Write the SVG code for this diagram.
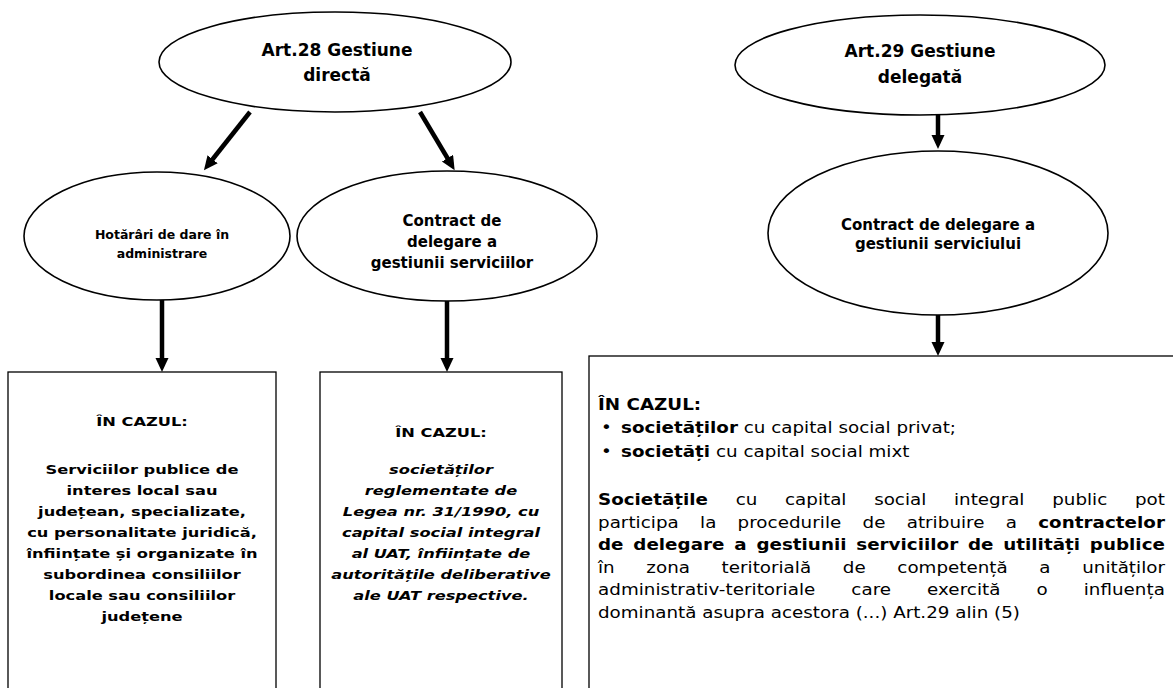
<svg xmlns="http://www.w3.org/2000/svg" width="1173" height="688" viewBox="0 0 1173 688">
<defs>
<style>
.bg{fill:#ffffff}
.ell{fill:#ffffff;stroke:#000;stroke-width:1.6}
.box{fill:#ffffff;stroke:#000;stroke-width:1.3}
.t{font-family:"DejaVu Sans","Liberation Sans",sans-serif;fill:#000;text-anchor:middle;font-weight:bold}
.r{font-family:"DejaVu Sans","Liberation Sans",sans-serif;fill:#000;font-size:15px}
.b{font-weight:bold}
.it{font-style:italic}
.arr{stroke:#000;stroke-width:4.5;fill:none;marker-end:url(#ah)}
</style>
<marker id="ah" markerUnits="userSpaceOnUse" markerWidth="16" markerHeight="16" refX="1" refY="6.5" orient="auto">
<path d="M0,0 L14,6.5 L0,13 z" fill="#000"/>
</marker>
</defs>
<rect class="bg" x="0" y="0" width="1173" height="688"/>

<g id="connectors">
<line class="arr" x1="250" y1="112" x2="212" y2="160"/>
<line class="arr" x1="420" y1="112" x2="448" y2="159"/>
<line class="arr" x1="938" y1="115" x2="938" y2="136"/>
<line class="arr" x1="938" y1="315" x2="938" y2="343"/>
<line class="arr" x1="162" y1="300" x2="162" y2="359"/>
<line class="arr" x1="447" y1="301" x2="447" y2="359"/>
</g>

<g id="art28">
<ellipse class="ell" cx="335" cy="62" rx="176" ry="50"/>
<text class="t" x="337" y="56" font-size="17">Art.28 Gestiune</text>
<text class="t" x="337" y="81" font-size="17">directă</text>
</g>

<g id="art29">
<ellipse class="ell" cx="920" cy="65" rx="185" ry="50"/>
<text class="t" x="920" y="57" font-size="17">Art.29 Gestiune</text>
<text class="t" x="920" y="83" font-size="17">delegată</text>
</g>

<g id="hotarari">
<ellipse class="ell" cx="157" cy="236" rx="133" ry="64"/>
<text class="t" x="162" y="239" font-size="12.5">Hotărâri de dare în</text>
<text class="t" x="162" y="258" font-size="12.5">administrare</text>
</g>

<g id="contract-servicii">
<ellipse class="ell" cx="447" cy="236" rx="150" ry="65"/>
<text class="t" x="452" y="226" font-size="15">Contract de</text>
<text class="t" x="452" y="247" font-size="15">delegare a</text>
<text class="t" x="452" y="268" font-size="15">gestiunii serviciilor</text>
</g>

<g id="contract-serviciu">
<ellipse class="ell" cx="938" cy="233" rx="170" ry="82"/>
<text class="t" x="938" y="230" font-size="15">Contract de delegare a</text>
<text class="t" x="938" y="249" font-size="15">gestiunii serviciului</text>
</g>

<g id="box-left">
<rect class="box" x="8" y="372" width="268" height="330"/>
<g transform="translate(142,0) scale(1.25,1)">
<text class="t" x="0" y="426" font-size="13">ÎN CAZUL:</text>
<text class="t" x="0" y="474" font-size="13">Serviciilor publice de</text>
<text class="t" x="0" y="495" font-size="13">interes local sau</text>
<text class="t" x="0" y="516" font-size="13">județean, specializate,</text>
<text class="t" x="0" y="537" font-size="13">cu personalitate juridică,</text>
<text class="t" x="0" y="558" font-size="13">înființate și organizate în</text>
<text class="t" x="0" y="579" font-size="13">subordinea consiliilor</text>
<text class="t" x="0" y="600" font-size="13">locale sau consiliilor</text>
<text class="t" x="0" y="621" font-size="13">județene</text>
</g>
</g>

<g id="box-middle">
<rect class="box" x="320" y="372" width="242" height="330"/>
<g transform="translate(441,0) scale(1.25,1)">
<text class="t" x="0" y="437" font-size="13">ÎN CAZUL:</text>
<text class="t it" x="0" y="474" font-size="13">societăților</text>
<text class="t it" x="0" y="495" font-size="13">reglementate de</text>
<text class="t it" x="0" y="516" font-size="13">Legea nr. 31/1990, cu</text>
<text class="t it" x="0" y="537" font-size="13">capital social integral</text>
<text class="t it" x="0" y="558" font-size="13">al UAT, înființate de</text>
<text class="t it" x="0" y="579" font-size="13">autoritățile deliberative</text>
<text class="t it" x="0" y="600" font-size="13">ale UAT respective.</text>
</g>
</g>

<g id="box-right">
<rect class="box" x="589" y="356" width="600" height="346"/>
<g transform="translate(598,0) scale(1.22,1)">
<text class="r b" x="0" y="410">ÎN CAZUL:</text>
<text class="r" x="2.5" y="433">•</text>
<text class="r" x="18.9" y="433"><tspan class="b">societăților</tspan> cu capital social privat;</text>
<text class="r" x="2.5" y="457">•</text>
<text class="r" x="18.9" y="457"><tspan class="b">societăți</tspan> cu capital social mixt</text>
<text class="r" x="0" y="505" style="word-spacing:18px" textLength="464.7" lengthAdjust="spacing"><tspan class="b">Societățile</tspan> cu capital social integral public pot</text>
<text class="r" x="0" y="528" style="word-spacing:12.6px" textLength="464.7" lengthAdjust="spacing">participa la procedurile de atribuire a <tspan class="b">contractelor</tspan></text>
<text class="r b" x="0" y="550" style="word-spacing:2.8px" textLength="464.7" lengthAdjust="spacing">de delegare a gestiunii serviciilor de utilități publice</text>
<text class="r" x="0" y="573" style="word-spacing:21.2px" textLength="464.7" lengthAdjust="spacing">în zona teritorială de competență a unităților</text>
<text class="r" x="0" y="595" style="word-spacing:24.7px" textLength="464.7" lengthAdjust="spacing">administrativ-teritoriale care exercită o influența</text>
<text class="r" x="0" y="618">dominantă asupra acestora (...) Art.29 alin (5)</text>
</g>
</g>
</svg>
